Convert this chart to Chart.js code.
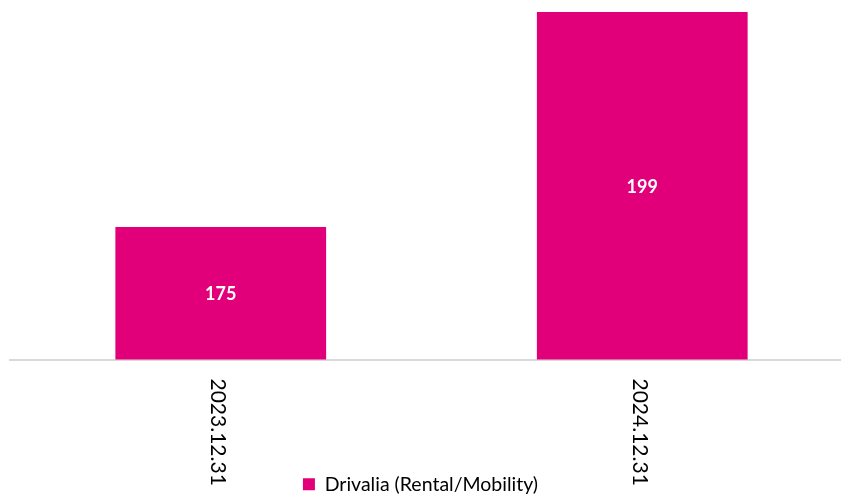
<!DOCTYPE html>
<html><head><meta charset="utf-8">
<script src="https://cdn.jsdelivr.net/npm/chart.js@4"></script>
<style>html,body{margin:0;padding:0;overflow:hidden;background:#fff}
#wrap{width:853px;height:498px;position:relative}</style>
</head><body><div id="wrap"><canvas id="c"></canvas></div>
<script>
const categories = ['2023.12.31', '2024.12.31'];
const seriesName = 'Drivalia (Rental/Mobility)';
const values = [175, 199];

const BAR_COLOR = '#E2007A';

const legendShift = {
  id: 'legendShift',
  afterLayout(chart) {
    const lg = chart.legend;
    if (lg) { lg.left = 0; lg.right = 841; lg.top += 6; lg.bottom += 6; }
  }
};

const labelsPlugin = {
  id: 'labelsPlugin',
  afterDraw(chart) {
    const ctx = chart.ctx;
    const xs = chart.scales.x;
    const ys = chart.scales.y;
    ctx.save();
    ctx.fillStyle = '#ffffff';
    ctx.font = 'bold 18px Lato, sans-serif';
    ctx.textAlign = 'center';
    ctx.textBaseline = 'middle';
    values.forEach((v, i) => {
      const x = xs.getPixelForTick(i);
      const top = ys.getPixelForValue(v);
      const base = ys.bottom;
      ctx.fillText(String(v), x, (top + base) / 2 + 1);
    });
    ctx.fillStyle = '#000000';
    ctx.font = '21px Lato, sans-serif';
    ctx.textAlign = 'left';
    ctx.textBaseline = 'alphabetic';
    categories.forEach((lab, i) => {
      const px = xs.getPixelForTick(i);
      ctx.save();
      ctx.translate(px - 9.5, xs.top + 19);
      ctx.rotate(Math.PI / 2);
      ctx.fillText(lab, 0, 0);
      ctx.restore();
    });
    ctx.restore();
  }
};

new Chart(document.getElementById('c'), {
  type: 'bar',
  data: {
    labels: categories,
    datasets: [{
      label: seriesName,
      data: values,
      backgroundColor: BAR_COLOR,
      borderWidth: 0,
      categoryPercentage: 0.5,
      barPercentage: 1
    }]
  },
  options: {
    responsive: true,
    maintainAspectRatio: false,
    animation: false,
    layout: { padding: { left: 10, right: 0, top: 0, bottom: 0 } },
    scales: {
      x: {
        grid: { display: false },
        border: { display: true, color: '#d9d9d9', width: 2 },
        ticks: { display: false },
        afterFit(scale) { scale.height = 105; }
      },
      y: {
        display: false,
        min: 160.2,
        max: 200.34
      }
    },
    plugins: {
      legend: {
        position: 'bottom',
        labels: {
          boxWidth: 12,
          boxHeight: 12,
          padding: 4,
          color: '#000000',
          font: { family: 'Lato', size: 19.5 }
        }
      },
      tooltip: { enabled: false }
    }
  },
  plugins: [legendShift, labelsPlugin]
});
</script>
</body></html>
